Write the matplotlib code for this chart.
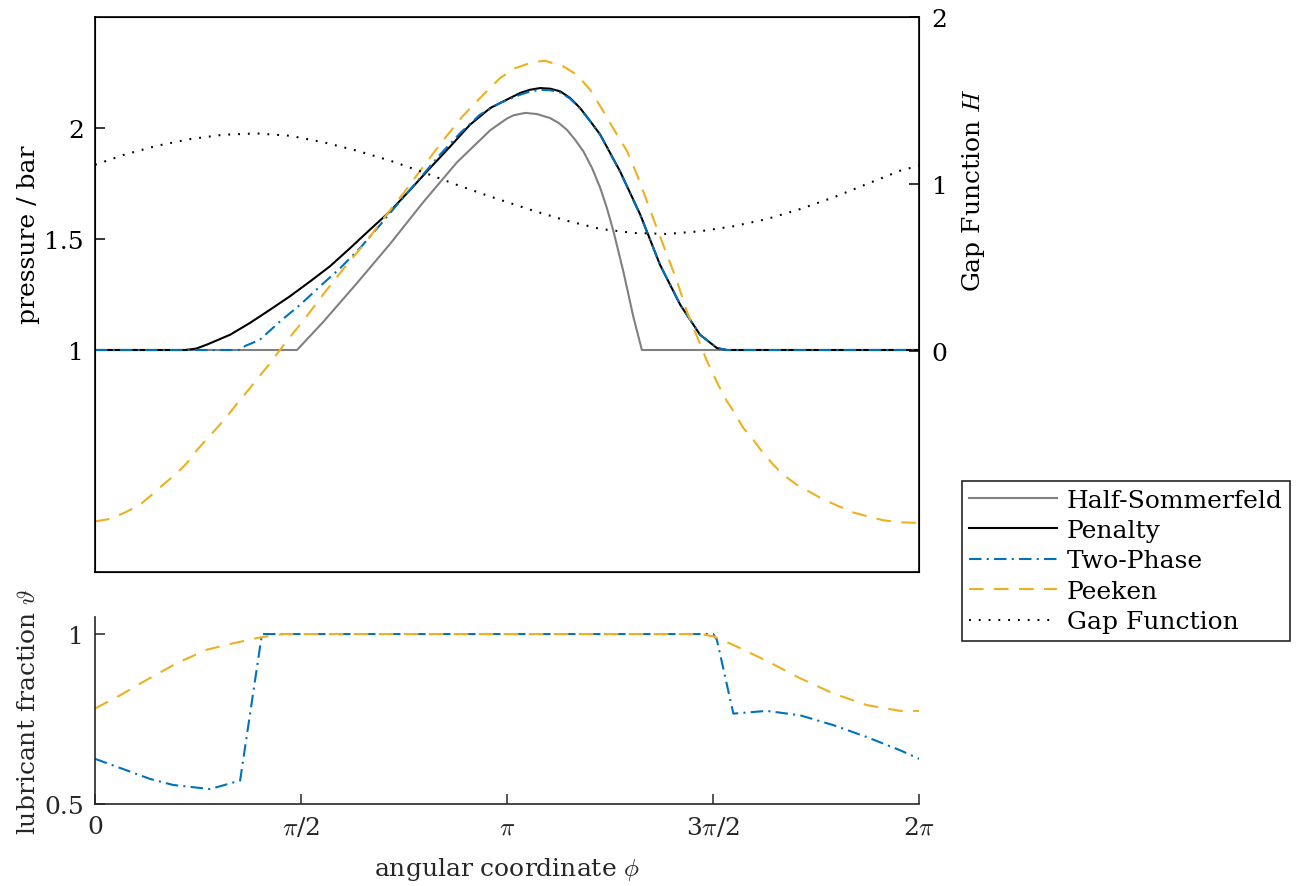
import numpy as np
import matplotlib.pyplot as plt

plt.rcParams['font.family'] = ['DejaVu Serif']
plt.rcParams['mathtext.fontset'] = 'cm'
plt.rcParams['font.size'] = 18

# angular positions are given in units of pi
hs_t = [0, 0.49, 0.553, 0.635, 0.716, 0.796, 0.878, 0.959, 0.999, 1.015,
        1.044, 1.072, 1.104, 1.125, 1.145, 1.165, 1.185, 1.206, 1.226,
        1.242, 1.258, 1.282, 1.307, 1.327, 2.0]
hs_p = [1, 1, 1.125, 1.300, 1.478, 1.665, 1.845, 1.990, 2.042, 2.057,
        2.068, 2.063, 2.045, 2.023, 1.992, 1.947, 1.895, 1.820, 1.730,
        1.640, 1.535, 1.354, 1.144, 1.0, 1.0]

pen_t = [0, 0.218, 0.245, 0.271, 0.328, 0.376, 0.425, 0.473, 0.522, 0.570,
         0.619, 0.667, 0.716, 0.765, 0.813, 0.862, 0.910, 0.959, 1.007,
         1.032, 1.055, 1.080, 1.105, 1.129, 1.153, 1.177, 1.200, 1.226,
         1.274, 1.323, 1.371, 1.420, 1.468, 1.509, 1.533, 2.0]
pen_p = [1, 1, 1.006, 1.024, 1.069, 1.122, 1.182, 1.242, 1.309, 1.377,
         1.459, 1.542, 1.625, 1.722, 1.820, 1.917, 2.015, 2.090, 2.135,
         2.158, 2.172, 2.180, 2.177, 2.165, 2.135, 2.090, 2.035, 1.970,
         1.805, 1.610, 1.384, 1.204, 1.069, 1.009, 1.0, 1.0]

tp_t = [0, 0.352, 0.364, 0.400, 0.449, 0.498, 0.546, 0.595, 0.643, 0.692,
        0.740, 0.789, 0.837, 0.886, 0.934, 0.983, 1.032, 1.055, 1.080,
        1.105, 1.129, 1.153, 1.177, 1.200, 1.226, 1.274, 1.323, 1.371,
        1.420, 1.468, 1.509, 1.533, 2.0]
tp_p = [1, 1, 1.018, 1.046, 1.129, 1.204, 1.287, 1.369, 1.459, 1.564,
        1.670, 1.775, 1.880, 1.977, 2.060, 2.113, 2.150, 2.164, 2.172,
        2.170, 2.160, 2.132, 2.088, 2.034, 1.968, 1.803, 1.608, 1.384,
        1.204, 1.069, 1.009, 1.0, 1.0]

pk_t = [0, 0.036, 0.075, 0.109, 0.141, 0.165, 0.199, 0.223, 0.250, 0.274,
        0.303, 0.325, 0.352, 0.374, 0.402, 0.425, 0.449, 0.471, 0.505,
        0.553, 0.611, 0.659, 0.699, 0.748, 0.796, 0.845, 0.893, 0.942,
        0.983, 1.020, 1.063, 1.092, 1.136, 1.169, 1.201, 1.233, 1.257,
        1.291, 1.315, 1.339, 1.364, 1.388, 1.412, 1.436, 1.461, 1.485,
        1.512, 1.533, 1.549, 1.573, 1.594, 1.618, 1.646, 1.670, 1.703,
        1.735, 1.764, 1.800, 1.840, 1.876, 1.913, 1.954, 2.0]
pk_p = [0.228, 0.239, 0.270, 0.303, 0.353, 0.393, 0.446, 0.491, 0.555,
        0.604, 0.664, 0.712, 0.776, 0.824, 0.889, 0.941, 1.001, 1.054,
        1.131, 1.249, 1.385, 1.490, 1.590, 1.705, 1.825, 1.945, 2.055,
        2.150, 2.225, 2.270, 2.297, 2.303, 2.278, 2.240, 2.173, 2.077,
        2.000, 1.896, 1.790, 1.671, 1.545, 1.429, 1.311, 1.175, 1.060,
        0.950, 0.844, 0.770, 0.725, 0.649, 0.604, 0.544, 0.483, 0.438,
        0.393, 0.360, 0.330, 0.300, 0.268, 0.250, 0.233, 0.224, 0.221]

gap_t = [0, 0.069, 0.150, 0.231, 0.311, 0.392, 0.473, 0.554, 0.635, 0.716,
         0.797, 0.878, 0.959, 1.064, 1.145, 1.226, 1.307, 1.388, 1.468,
         1.549, 1.630, 1.711, 1.792, 1.873, 1.954, 2.0]
gap_h = [1.115, 1.174, 1.229, 1.269, 1.295, 1.303, 1.289, 1.250, 1.200,
         1.140, 1.070, 0.995, 0.925, 0.840, 0.780, 0.731, 0.707, 0.701,
         0.717, 0.747, 0.790, 0.850, 0.920, 1.000, 1.080, 1.110]

# lubricant fraction
tpf_t = [0, 0.077, 0.133, 0.190, 0.279, 0.352, 0.405, 1.5, 1.509, 1.549,
         1.630, 1.711, 1.792, 1.873, 1.954, 2.0]
tpf = [0.633, 0.599, 0.574, 0.556, 0.544, 0.569, 1.0, 1.0, 0.983, 0.766,
       0.774, 0.761, 0.732, 0.697, 0.658, 0.633]
pkf_t = [0, 0.061, 0.125, 0.198, 0.271, 0.336, 0.400, 0.457, 1.47, 1.501,
         1.549, 1.630, 1.711, 1.792, 1.873, 1.954, 2.0]
pkf = [0.781, 0.820, 0.865, 0.914, 0.954, 0.973, 0.990, 1.0, 1.0, 0.993,
       0.968, 0.921, 0.870, 0.825, 0.791, 0.774, 0.774]

xticks = [0, 0.5, 1, 1.5, 2]
xticklabels = ['0', r'$\pi$/2', r'$\pi$', r'3$\pi$/2', r'2$\pi$']

c_gray = '#808080'
c_blue = '#0072BD'
c_yel = '#EDB120'
dk = '#262626'
lw = 1.5

fig = plt.figure(figsize=(13.02, 8.87), dpi=100)
ax = fig.add_axes([0.073, 0.354, 0.633, 0.6257])
bx = fig.add_axes([0.073, 0.0924, 0.633, 0.2108])

def rad(t):
    return np.asarray(t) * np.pi

ax.plot(rad(hs_t), hs_p, color=c_gray, lw=lw, label='Half-Sommerfeld')
ax.plot(rad(pen_t), pen_p, color='k', lw=lw, label='Penalty')
ax.plot(rad(tp_t), tp_p, color=c_blue, lw=lw, dashes=(6, 2.5, 1, 2.5),
        label='Two-Phase')
ax.plot(rad(pk_t), pk_p, color=c_yel, lw=lw, dashes=(7, 5), label='Peeken')
ax.set_xlim(0, 2 * np.pi)
ax.set_ylim(0, 2.5)
ax.set_xticks([])
ax.set_yticks([1, 1.5, 2])
ax.set_yticklabels(['1', '1.5', '2'])
ax.tick_params(axis='y', direction='in', length=7, width=1.1, right=True,
               pad=8)
for s in ax.spines.values():
    s.set_linewidth(1.2)
ax.set_ylabel('pressure / bar')
ax.yaxis.set_label_coords(-0.067, 0.61)

ax2 = ax.twinx()
ax2.plot(rad(gap_t), gap_h, color='k', lw=lw, dashes=(0.9, 3.8),
         label='Gap Function')
ax2.set_ylim(-1.323, 2)
ax2.set_yticks([0, 1, 2])
ax2.set_yticklabels(['0', '1', '2'])
ax2.tick_params(axis='y', direction='in', length=7, width=1.1, pad=9)
ax2.set_ylabel('Gap Function $H$')
ax2.yaxis.set_label_coords(1.050, 0.69)

bx.plot(rad(tpf_t), tpf, color=c_blue, lw=lw, dashes=(6, 2.5, 1, 2.5))
bx.plot(rad(pkf_t), pkf, color=c_yel, lw=lw, dashes=(7, 5))
bx.set_xlim(0, 2 * np.pi)
bx.set_ylim(0.5, 1.05)
bx.set_yticks([0.5, 1])
bx.set_yticklabels(['0.5', '1'])
bx.set_xticks(rad(xticks))
bx.set_xticklabels(xticklabels)
bx.spines['top'].set_visible(False)
bx.spines['right'].set_visible(False)
for s in ('left', 'bottom'):
    bx.spines[s].set_color(dk)
    bx.spines[s].set_linewidth(1.2)
bx.tick_params(direction='in', length=7, width=1.1, colors=dk, pad=8)
bx.set_ylabel(r'lubricant fraction $\vartheta$', color=dk)
bx.yaxis.set_label_coords(-0.067, 0.5)
bx.set_xlabel(r'angular coordinate $\phi$', color=dk)
bx.xaxis.set_label_coords(0.5, -0.27)

handles = ax.get_lines() + ax2.get_lines()
leg = fig.legend(handles, [h.get_label() for h in handles],
                 loc='upper left', bbox_to_anchor=(962 / 1302, 1 - 482 / 887),
                 fancybox=False, edgecolor=dk, framealpha=1,
                 handlelength=3.5, handletextpad=0.4, labelspacing=0.3,
                 borderpad=0.3, borderaxespad=0)
leg.get_frame().set_linewidth(1.2)

fig.savefig('out.png', dpi=100)
